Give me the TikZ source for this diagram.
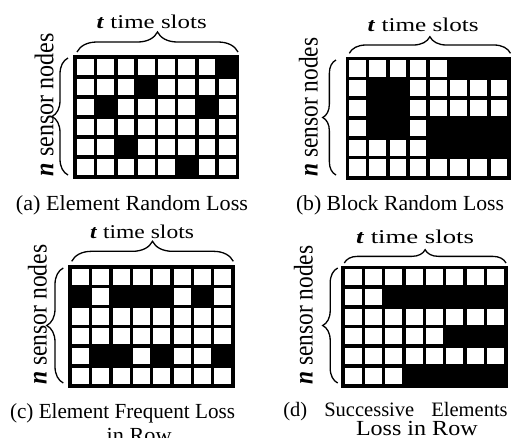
\documentclass[tikz,border=0pt]{standalone}
\usepackage{fontspec}
\setmainfont{Liberation Serif}
\usetikzlibrary{decorations.pathreplacing}
\newcommand\lossgrid[5]{% x, y(top), W, H, rows
  \fill[black] (#1,-#2) rectangle ++(#3,-#4);
  \foreach \row [count=\r from 0] in {#5} {
    \foreach \c [count=\k from 0] in \row {
      \ifnum\c=0
        \fill[white] ({#1+2+\k*(#3-4)/8+1.8},{-#2-2-\r*(#4-4)/6-1.8}) rectangle ++({(#3-4)/8-3.6},{-(#4-4)/6+3.6});
      \fi
    }
  }
}
\newcommand\ttitle[1]{\resizebox{#1}{\height}{\fontsize{19.5}{22}\selectfont\textbf{\textit{t}} time slots}}
\newcommand\nlabel[1]{\resizebox{#1}{\height}{\fontsize{27}{30}\selectfont\textbf{\textit{n}} sensor nodes}}
\newcommand\capt[2]{\resizebox{#1}{\height}{\fontsize{21.5}{24}\selectfont #2}}
\tikzset{
  lbl/.style={inner sep=0pt, outer sep=0pt, anchor=base west},
  vlbl/.style={inner sep=0pt, outer sep=0pt, anchor=base west, rotate=90},
  br/.style={decorate, decoration={brace, amplitude=#1}, line width=1.3pt}
}
\begin{document}
\begin{tikzpicture}[x=1pt,y=1pt]
\useasboundingbox[fill=white] (0,0) rectangle (512,-437);
% ---- (a)
\lossgrid{73.3}{55}{166}{124}{{0,0,0,0,0,0,0,1},{0,0,0,1,0,0,0,0},{0,1,0,0,0,0,1,0},{0,0,0,0,0,0,0,0},{0,0,1,0,0,0,0,0},{0,0,0,0,0,1,0,0}}
\coordinate (a1) at (77,-52); \coordinate (a2) at (238,-52);
\draw[br=20] (a1) -- (a2);
\coordinate (a3) at (68,-175); \coordinate (a4) at (68,-58);
\draw[br=16] (a3) -- (a4);
\node[lbl] (ta) at (96.7,-28.3) {\ttitle{110pt}};
\node[vlbl] (na) at (53.3,-176) {\nlabel{143pt}};
\node[lbl] (ca) at (16,-210.7) {\capt{232pt}{(a) Element Random Loss}};
% ---- (b)
\lossgrid{345.5}{56.5}{165.5}{123}{{0,0,0,0,0,1,1,1},{0,1,1,0,0,0,0,0},{0,1,1,0,0,0,0,0},{0,1,1,0,1,1,1,1},{0,0,0,0,1,1,1,1},{0,0,0,0,0,0,0,0}}
\coordinate (b1) at (349.3,-53.3); \coordinate (b2) at (510.5,-53.3);
\draw[br=16.6] (b1) -- (b2);
\coordinate (b3) at (336,-175); \coordinate (b4) at (336,-60);
\draw[br=13.3] (b3) -- (b4);
\node[lbl] (tb) at (367.7,-31.7) {\ttitle{111pt}};
\node[vlbl] (nb) at (317.7,-176.7) {\nlabel{139pt}};
\node[lbl] (cb) at (296,-210.7) {\capt{208pt}{(b) Block Random Loss}};
% ---- (c)
\lossgrid{68.3}{264.7}{166.7}{123.3}{{0,0,0,0,0,0,0,0},{1,0,1,1,1,0,1,0},{0,0,0,0,0,0,0,0},{0,0,0,0,0,0,0,0},{0,1,1,0,1,0,0,1},{0,0,0,0,0,0,0,0}}
\coordinate (c1) at (71.7,-261.3); \coordinate (c2) at (233.3,-261.3);
\draw[br=20] (c1) -- (c2);
\coordinate (c3) at (63.3,-383); \coordinate (c4) at (63.3,-268);
\draw[br=16.6] (c3) -- (c4);
\node[lbl] (tc) at (90,-238) {\ttitle{104pt}};
\node[vlbl] (nc) at (46.7,-384.7) {\nlabel{140pt}};
\node[lbl] (cc1) at (10,-418.3) {\capt{225pt}{(c) Element Frequent Loss}};
\node[lbl] (cc2) at (106.7,-442) {\capt{65pt}{in Row}};
% ---- (d)
\lossgrid{341}{265.5}{166.7}{122}{{0,0,0,0,0,0,0,0},{0,0,1,1,1,1,1,1},{0,0,0,0,0,0,0,0},{0,0,0,0,0,1,1,1},{0,0,0,0,0,0,0,0},{0,0,0,1,1,1,1,1}}
\coordinate (d1) at (344.3,-263); \coordinate (d2) at (506,-263);
\draw[br=13.3] (d1) -- (d2);
\coordinate (d3) at (337.7,-383); \coordinate (d4) at (337.7,-268);
\draw[br=15] (d3) -- (d4);
\node[lbl] (td) at (356,-243) {\ttitle{118pt}};
\node[vlbl] (nd) at (312.7,-384.7) {\nlabel{139pt}};
\node[lbl] (cd1) at (283.3,-416.5) {\fontsize{20.5}{24}\selectfont\hbox to 224.4pt{(d)\hfill Successive\hfill Elements}};
\node[lbl] (cd2) at (356,-435.5) {\capt{121.7pt}{Loss in Row}};
\end{tikzpicture}
\end{document}
